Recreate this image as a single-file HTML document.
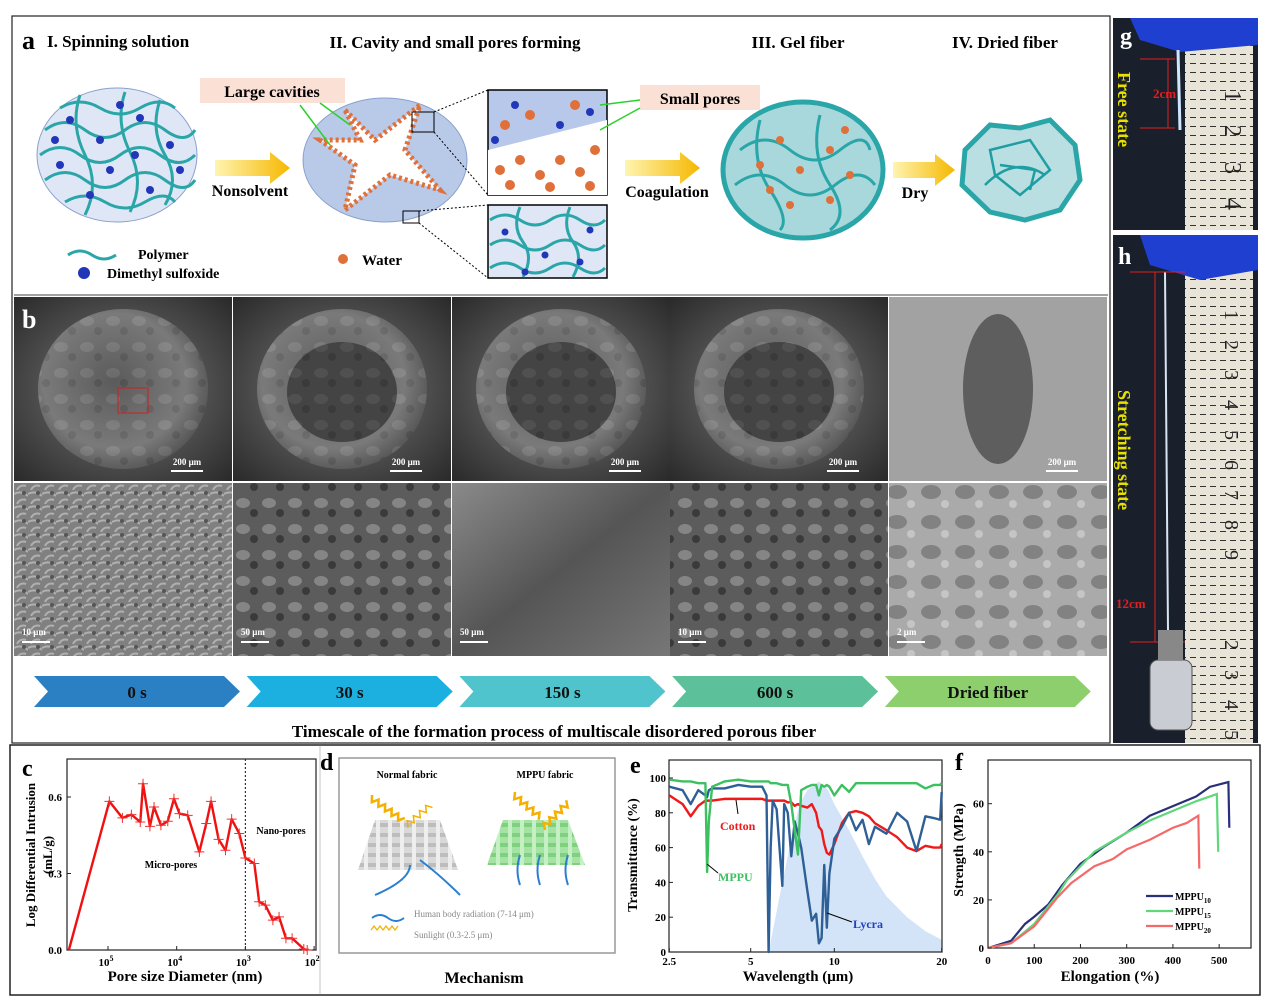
<!DOCTYPE html>
<html><head><meta charset="utf-8">
<style>
html,body{margin:0;padding:0;background:#fff;}
svg{display:block;font-family:"Liberation Serif",serif;}
.b{font-weight:bold;}
</style></head>
<body>
<svg id="fig" width="1261" height="998" viewBox="0 0 1261 998" xmlns="http://www.w3.org/2000/svg">
<defs>
<linearGradient id="yarrow" x1="0" x2="1"><stop offset="0" stop-color="#fff4b0"/><stop offset="1" stop-color="#f6b800"/></linearGradient>
<radialGradient id="semDark" cx="0.5" cy="0.5" r="0.7"><stop offset="0" stop-color="#7a7a7a"/><stop offset="1" stop-color="#2a2a2a"/></radialGradient>
<radialGradient id="fiber" cx="0.45" cy="0.45" r="0.6"><stop offset="0" stop-color="#5a5a5a"/><stop offset="0.7" stop-color="#8a8a8a"/><stop offset="1" stop-color="#4a4a4a"/></radialGradient>
<linearGradient id="g150" x1="0" y1="0" x2="1" y2="1"><stop offset="0" stop-color="#8a8a8a"/><stop offset="0.5" stop-color="#555"/><stop offset="1" stop-color="#777"/></linearGradient>
<pattern id="tex" width="14" height="14" patternUnits="userSpaceOnUse"><rect width="14" height="14" fill="#808080"/><path d="M0 4 Q7 0 14 6 M3 14 Q6 8 12 10" stroke="#b0b0b0" stroke-width="2" fill="none"/><circle cx="10" cy="3" r="2" fill="#555"/></pattern>
<pattern id="tex2" width="26" height="26" patternUnits="userSpaceOnUse"><rect width="26" height="26" fill="#5c5c5c"/><ellipse cx="9" cy="9" rx="7" ry="5" fill="#858585"/><circle cx="20" cy="19" r="4" fill="#3a3a3a"/></pattern>
<pattern id="tex3" width="34" height="30" patternUnits="userSpaceOnUse"><rect width="34" height="30" fill="#aaa"/><ellipse cx="13" cy="12" rx="10" ry="7" fill="#828282"/><circle cx="27" cy="24" r="4" fill="#c5c5c5"/></pattern>
<pattern id="weave" width="12" height="10" patternUnits="userSpaceOnUse"><rect width="12" height="10" fill="#d9d9d9"/><rect x="0" y="3" width="12" height="4" fill="#bdbdbd"/><rect x="4" y="0" width="4" height="10" fill="#eeeeee"/></pattern>
<pattern id="weaveG" width="12" height="10" patternUnits="userSpaceOnUse"><rect width="12" height="10" fill="#a5e3a5"/><rect x="0" y="3" width="12" height="4" fill="#7fd07f"/><rect x="4" y="0" width="4" height="10" fill="#c4f0c4"/></pattern>
<pattern id="ruler" width="10" height="9" patternUnits="userSpaceOnUse"><rect width="10" height="9" fill="#e8e4d8"/><line x1="0" y1="0.5" x2="6" y2="0.5" stroke="#333" stroke-width="1"/></pattern>
</defs>

<rect x="12" y="16" width="1098" height="727" fill="none" stroke="#222" stroke-width="1.2"/>
<rect x="10" y="745" width="1250" height="250" fill="none" stroke="#222" stroke-width="1.5"/>
<line x1="14" y1="295" x2="1108" y2="295" stroke="#444"/>

<g>
<text x="22" y="49" class="b" font-size="26">a</text>
<text x="47" y="47" class="b" font-size="17">I. Spinning solution</text>
<text x="455" y="48" class="b" font-size="17" text-anchor="middle">II. Cavity and small pores forming</text>
<text x="798" y="48" class="b" font-size="17" text-anchor="middle">III. Gel fiber</text>
<text x="1005" y="48" class="b" font-size="17" text-anchor="middle">IV. Dried fiber</text>

<g>
<ellipse cx="117" cy="155" rx="80" ry="67" fill="#dfe7f6" stroke="#8aa0cc"/>
<g stroke="#2aa6a8" stroke-width="3" fill="none">
<path d="M45 130 q20 -15 40 0 t40 0 t40 0 t30 0"/><path d="M40 155 q20 -15 40 0 t40 0 t40 0 t35 0"/><path d="M45 180 q20 -15 40 0 t40 0 t40 0 t30 0"/><path d="M60 108 q20 -12 40 0 t40 0 t35 0"/><path d="M65 202 q20 -12 40 0 t40 0 t30 0"/>
<path d="M80 95 q-10 30 5 60 t0 60"/><path d="M125 92 q-10 30 5 60 t0 60"/><path d="M160 100 q-10 30 5 55 t0 50"/>
</g>
<g fill="#2236b8"><circle cx="70" cy="120" r="4"/><circle cx="100" cy="140" r="4"/><circle cx="140" cy="118" r="4"/><circle cx="170" cy="145" r="4"/><circle cx="60" cy="165" r="4"/><circle cx="110" cy="170" r="4"/><circle cx="150" cy="190" r="4"/><circle cx="90" cy="195" r="4"/><circle cx="180" cy="170" r="4"/><circle cx="120" cy="105" r="4"/><circle cx="55" cy="140" r="4"/><circle cx="135" cy="155" r="4"/></g>
</g>
<polygon points="215,160 270,160 270,152 290,168 270,184 270,176 215,176" fill="url(#yarrow)"/>
<text x="250" y="196" class="b" font-size="16" text-anchor="middle">Nonsolvent</text>

<rect x="200" y="78" width="145" height="25" fill="#fbe0d6"/>
<text x="272" y="97" class="b" font-size="16" text-anchor="middle">Large cavities</text>
<g>
<ellipse cx="385" cy="160" rx="82" ry="62" fill="#b9c9e8" stroke="#8aa0cc"/>
<path d="M345 110 L375 140 L420 105 L405 150 L440 190 L390 175 L345 210 L355 165 L320 140 L360 140 Z" fill="#fff" stroke="#e0703a" stroke-width="5" stroke-dasharray="3 3"/>
<rect x="412" y="112" width="22" height="20" fill="none" stroke="#000"/><rect x="403" y="211" width="16" height="12" fill="none" stroke="#000"/>
<line x1="434" y1="112" x2="488" y2="90" stroke="#000" stroke-dasharray="2 2"/><line x1="434" y1="132" x2="488" y2="195" stroke="#000" stroke-dasharray="2 2"/>
<line x1="419" y1="211" x2="488" y2="205" stroke="#000" stroke-dasharray="2 2"/><line x1="419" y1="223" x2="488" y2="278" stroke="#000" stroke-dasharray="2 2"/>
<line x1="300" y1="105" x2="330" y2="145" stroke="#2bd12b" stroke-width="1.5"/><line x1="320" y1="103" x2="350" y2="125" stroke="#2bd12b" stroke-width="1.5"/>
</g>
<g>
<rect x="488" y="90" width="119" height="105" fill="#b8c8ea" stroke="#000" stroke-width="1.5"/>
<path d="M488 150 L607 120 L607 195 L488 195 Z" fill="#fff"/>
<g fill="#e0703a"><circle cx="500" cy="170" r="5"/><circle cx="520" cy="160" r="5"/><circle cx="540" cy="175" r="5"/><circle cx="560" cy="160" r="5"/><circle cx="580" cy="172" r="5"/><circle cx="595" cy="150" r="5"/><circle cx="510" cy="185" r="5"/><circle cx="550" cy="187" r="5"/><circle cx="590" cy="186" r="5"/><circle cx="530" cy="115" r="5"/><circle cx="575" cy="105" r="5"/><circle cx="505" cy="125" r="5"/></g>
<g fill="#2236b8"><circle cx="515" cy="105" r="4"/><circle cx="560" cy="125" r="4"/><circle cx="590" cy="112" r="4"/><circle cx="495" cy="140" r="4"/></g>
<rect x="488" y="205" width="119" height="73" fill="#dfe7f6" stroke="#000" stroke-width="1.5"/>
<g stroke="#2aa6a8" stroke-width="3" fill="none"><path d="M490 220 q15 -10 30 0 t30 0 t30 0 t25 0"/><path d="M490 245 q15 -10 30 0 t30 0 t30 0 t25 0"/><path d="M490 268 q15 -10 30 0 t30 0 t30 0 t25 0"/><path d="M520 207 q-8 20 3 35 t0 35"/><path d="M570 207 q-8 20 3 35 t0 35"/></g>
<g fill="#2236b8"><circle cx="505" cy="232" r="3.5"/><circle cx="545" cy="255" r="3.5"/><circle cx="590" cy="230" r="3.5"/><circle cx="525" cy="272" r="3.5"/><circle cx="580" cy="262" r="3.5"/></g>
</g>
<rect x="640" y="85" width="120" height="25" fill="#fbe0d6"/>
<text x="700" y="104" class="b" font-size="16" text-anchor="middle">Small pores</text>
<line x1="640" y1="100" x2="600" y2="105" stroke="#2bd12b" stroke-width="1.5"/><line x1="640" y1="108" x2="600" y2="130" stroke="#2bd12b" stroke-width="1.5"/>
<polygon points="625,160 680,160 680,152 700,168 680,184 680,176 625,176" fill="url(#yarrow)"/>
<text x="667" y="197" class="b" font-size="16" text-anchor="middle">Coagulation</text>
<g>
<ellipse cx="803" cy="170" rx="80" ry="68" fill="#a8d8dc" stroke="#2aa6a8" stroke-width="5"/>
<g stroke="#2aa6a8" stroke-width="3" fill="none"><path d="M740 150 q25 -20 50 0 t50 0 t30 0"/><path d="M735 185 q25 -20 50 0 t50 0 t40 0"/><path d="M760 120 q-10 40 10 70 t10 40"/><path d="M820 115 q-10 40 10 70 t0 45"/></g>
<g fill="#e0703a"><circle cx="760" cy="165" r="4"/><circle cx="780" cy="140" r="4"/><circle cx="800" cy="170" r="4"/><circle cx="830" cy="150" r="4"/><circle cx="850" cy="175" r="4"/><circle cx="790" cy="205" r="4"/><circle cx="830" cy="200" r="4"/><circle cx="770" cy="190" r="4"/><circle cx="845" cy="130" r="4"/></g>
</g>
<polygon points="893,162 935,162 935,154 955,170 935,186 935,178 893,178" fill="url(#yarrow)"/>
<text x="915" y="198" class="b" font-size="16" text-anchor="middle">Dry</text>
<g>
<path d="M965 150 L990 125 L1020 128 L1050 120 L1075 145 L1080 180 L1060 210 L1025 220 L990 212 L962 185 Z" fill="#b9dfe3" stroke="#2aa6a8" stroke-width="5"/>
<g stroke="#1f9ea2" stroke-width="2.5" fill="none"><path d="M990 150 l40 -10 l20 30 l-30 25 l-25 -20 z"/><path d="M1000 165 l35 5 l-5 20"/><path d="M985 185 q30 -30 60 -10"/></g>
</g>
<g>
<path d="M68 255 q12 -8 24 0 t24 0" stroke="#2aa6a8" stroke-width="3" fill="none"/>
<text x="138" y="259" class="b" font-size="14">Polymer</text>
<circle cx="84" cy="273" r="6" fill="#2236b8"/>
<text x="107" y="278" class="b" font-size="14">Dimethyl sulfoxide</text>
<circle cx="343" cy="259" r="5" fill="#e0703a"/>
<text x="362" y="265" class="b" font-size="15">Water</text>
</g>
</g>

<g id="panelB"></g>
<g id="timeline"></g>
<text x="554" y="737" class="b" font-size="17" text-anchor="middle">Timescale of the formation process of multiscale disordered porous fiber</text>

<g>
<rect x="1113" y="18" width="145" height="212" fill="#1a1f2c"/>
<rect x="1185" y="45" width="68" height="185" fill="url(#ruler)"/>
<path d="M1130 18 L1258 18 L1258 45 L1180 52 L1140 40 Z" fill="#1e3fd0"/>
<line x1="1178" y1="50" x2="1180" y2="130" stroke="#cfe6ff" stroke-width="3"/>
<line x1="1140" y1="59" x2="1175" y2="59" stroke="#e02020"/><line x1="1140" y1="128" x2="1175" y2="128" stroke="#e02020"/><line x1="1168" y1="59" x2="1168" y2="128" stroke="#e02020"/>
<text x="1153" y="98" fill="#e02020" class="b" font-size="13">2cm</text>
<text transform="translate(1118,72) rotate(90)" fill="#e8e000" class="b" font-size="18">Free  state</text>
<text x="1120" y="44" fill="#fff" class="b" font-size="24">g</text>
<g font-size="24" fill="#222"><text transform="translate(1225,90) rotate(90)">1</text><text transform="translate(1225,125) rotate(90)">2</text><text transform="translate(1225,162) rotate(90)">3</text><text transform="translate(1225,198) rotate(90)">4</text></g>
</g>
<g>
<rect x="1113" y="235" width="145" height="508" fill="#1a1f2c"/>
<rect x="1185" y="265" width="68" height="478" fill="url(#ruler)"/>
<path d="M1140 235 L1258 235 L1258 270 L1200 280 L1150 265 Z" fill="#1e3fd0"/>
<line x1="1165" y1="272" x2="1168" y2="630" stroke="#d8e4f0" stroke-width="2"/>
<line x1="1130" y1="272" x2="1185" y2="272" stroke="#e02020"/><line x1="1130" y1="642" x2="1185" y2="642" stroke="#e02020"/><line x1="1155" y1="272" x2="1155" y2="642" stroke="#e02020"/>
<text x="1116" y="608" fill="#e02020" class="b" font-size="13">12cm</text>
<text transform="translate(1118,390) rotate(90)" fill="#e8e000" class="b" font-size="18">Stretching state</text>
<text x="1118" y="264" fill="#fff" class="b" font-size="24">h</text>
<rect x="1150" y="660" width="42" height="70" rx="8" fill="#c9ccd2" stroke="#555"/>
<rect x="1158" y="630" width="25" height="30" fill="#888"/>
<g font-size="20" fill="#222"><text transform="translate(1225,310) rotate(90)">1</text><text transform="translate(1225,340) rotate(90)">2</text><text transform="translate(1225,370) rotate(90)">3</text><text transform="translate(1225,400) rotate(90)">4</text><text transform="translate(1225,430) rotate(90)">5</text><text transform="translate(1225,460) rotate(90)">6</text><text transform="translate(1225,490) rotate(90)">7</text><text transform="translate(1225,520) rotate(90)">8</text><text transform="translate(1225,550) rotate(90)">9</text><text transform="translate(1225,640) rotate(90)">2</text><text transform="translate(1225,670) rotate(90)">3</text><text transform="translate(1225,700) rotate(90)">4</text><text transform="translate(1225,730) rotate(90)">5</text></g>
</g>

<line x1="320" y1="745" x2="320" y2="995" stroke="#888" stroke-width="0.5"/>

<g id="panelC"></g>
<g>
<text x="320" y="770" class="b" font-size="24">d</text>
<rect x="339" y="758" width="276" height="195" fill="#fff" stroke="#999" stroke-width="1.5"/>
<text x="407" y="778" class="b" font-size="10" text-anchor="middle">Normal fabric</text>
<text x="545" y="778" class="b" font-size="10" text-anchor="middle">MPPU fabric</text>
<path d="M375 820 L440 820 L458 870 L358 870 Z" fill="url(#weave)"/>
<path d="M503 820 L568 820 L585 865 L487 865 Z" fill="url(#weaveG)"/>
<g fill="none" stroke="#f5b000" stroke-width="2.5">
<path d="M372 795 l4 6 l4 -6 l4 6 l4 -6 l4 6 l4 -6 l4 6 l4 -6 l4 6 l4 -6" transform="rotate(35 372 795)"/>
<path d="M408 828 l4 -6 l4 6 l4 -6 l4 6 l4 -6 l4 6 l4 -6 l4 6" transform="rotate(-40 408 828)" stroke-width="1.5"/>
<path d="M515 792 l4 6 l4 -6 l4 6 l4 -6 l4 6 l4 -6 l4 6 l4 -6 l4 6" transform="rotate(40 515 792)"/>
<path d="M545 830 l4 -6 l4 6 l4 -6 l4 6 l4 -6 l4 6 l4 -6 l4 6 l4 -6" transform="rotate(-45 545 830)"/>
</g>
<g fill="none" stroke="#2a7fd0" stroke-width="2"><path d="M410 865 q0 15 -35 30"/><path d="M460 895 q-20 -20 -40 -35"/><path d="M520 885 q-5 -15 0 -30"/><path d="M540 885 q-5 -15 0 -30"/><path d="M568 885 q-5 -15 0 -30"/>
<path d="M372 918 q8 -6 16 0 t16 0"/></g>
<path d="M371 930 l3 -4 l3 4 l3 -4 l3 4 l3 -4 l3 4 l3 -4 l3 4 l3 -4" stroke="#f5b000" stroke-width="1.2" fill="none"/>
<text x="414" y="917" font-size="9" fill="#888">Human body radiation (7-14 μm)</text>
<text x="414" y="938" font-size="9" fill="#888">Sunlight (0.3-2.5 μm)</text>
<text x="484" y="983" class="b" font-size="16" text-anchor="middle">Mechanism</text>
</g>
<g id="panelE"></g>
<g id="panelF"></g>
</svg>

<script>
const cLogD = [5.57,4.98,4.79,4.66,4.53,4.49,4.39,4.33,4.23,4.13,4.04,3.96,3.84,3.67,3.57,3.50,3.39,3.29,3.20,3.09,3.00,2.87,2.80,2.71,2.60,2.51,2.41,2.32,2.15,2.10];
const cVal  = [0,0.583,0.518,0.531,0.502,0.652,0.485,0.561,0.489,0.505,0.593,0.535,0.528,0.385,0.496,0.583,0.434,0.391,0.513,0.457,0.361,0.339,0.189,0.176,0.117,0.130,0.046,0.046,0.004,0];
const cYTicks = [0,0.3,0.6];
const cYTickLabels = ["0.0","0.3","0.6"];
const cXTicks = [5,4,3,2];
const cXTickLabels = ["5","4","3","2"];

const eWl = [2.5,2.8,3.0,3.2,3.4,3.45,3.5,3.6,4,4.5,5,5.5,5.7,5.8,5.9,6,6.2,6.5,6.6,6.8,7,7.2,7.4,7.6,8,8.3,8.6,8.8,9,9.2,9.4,9.6,10,10.5,11,11.5,12,12.5,13,14,15,16,17,18,19,19.8,20];
const eLycra = [95,93,85,93,90,89,93,94,94,96,95,95,90,0,60,87,82,38,85,80,55,75,68,60,35,18,22,5,8,50,14,45,65,72,80,70,76,62,72,68,80,75,58,78,77,76,92];
const eCotton = [90,85,78,84,87,87,87,87,88,88,88,88,87,87,87,87,87,87,87,86,86,84,85,84,83,85,80,72,70,62,57,56,62,74,80,81,80,78,74,70,66,60,58,61,60,60,62];
const eMppu = [99,98,98,97,97,46,75,95,98,99,98,98,98,98,97,97,97,96,96,96,85,70,56,93,95,96,96,90,96,95,96,95,90,96,92,97,97,97,97,97,97,97,97,94,96,96,97];
const eBbWl = [5.8,6.5,7,7.5,8,8.8,9.5,10,11,12,13,14,16,18,20];
const eBbVal = [0,40,65,85,93,98,93,85,70,55,42,32,20,12,7];
const eXTicks = [2.5,5,10,20];
const eXTickLabels = ["2.5","5","10","20"];
const eYTicks = [0,20,40,60,80,100];

const fX10 = [0,50,80,100,130,160,200,250,300,350,400,450,480,520,522];
const fY10 = [0,3,10,13,18,26,35,42,48,55,59,63,67,69,50];
const fX15 = [0,50,100,150,170,200,230,300,350,400,450,495,498];
const fY15 = [0,2,10,22,28,34,40,48,53,57,61,64,40];
const fX20 = [0,50,100,150,180,230,270,300,350,400,430,455,457];
const fY20 = [0,2,9,21,27,34,37,41,45,50,52,55,33];
const fXTicks = [0,100,200,300,400,500];
const fYTicks = [0,20,40,60];

const NS = "http://www.w3.org/2000/svg";
function mk(tag, attrs, parent, text){
  const e = document.createElementNS(NS, tag);
  for (const k in attrs) e.setAttribute(k, attrs[k]);
  if (text !== undefined) e.textContent = text;
  parent.appendChild(e);
  return e;
}

(function(){
  const g = document.getElementById('panelB');
  const cols = [14,233,452,670,889];
  const row1Fill = ['url(#semDark)','url(#semDark)','url(#semDark)','url(#semDark)','#a2a2a2'];
  const row2Fill = ['url(#tex)','url(#tex2)','url(#g150)','url(#tex2)','url(#tex3)'];
  const scales1 = ['200 μm','200 μm','200 μm','200 μm','200 μm'];
  const scales2 = ['10 μm','50 μm','50 μm','10 μm','2 μm'];
  cols.forEach((x,i)=>{
    const r1 = mk('rect',{x:x,y:297,width:218,height:184,fill:row1Fill[i]},g);
    
    
    const f = mk('ellipse',{cx:x+109,cy:389,rx:i==4?35:85,ry:i==4?75:80,fill:i==4?'#5e5e5e':'url(#fiber)'},g);
    
    
    if(i<4){ mk('ellipse',{cx:x+109,cy:389,rx:85,ry:80,fill:'url(#tex2)',opacity:0.35},g); }
    if(i>0 && i<4){ mk('ellipse',{cx:x+109,cy:392,rx:55,ry:50,fill:'#3a3a3a'},g); mk('ellipse',{cx:x+109,cy:392,rx:55,ry:50,fill:'url(#tex2)',opacity:0.3},g); }
    const s1 = mk('text',{x:x+173,y:465,fill:'#fff','font-size':9,'font-weight':'bold','text-anchor':'middle'},g,scales1[i]);
    
    
    mk('line',{x1:x+157,y1:471,x2:x+189,y2:471,stroke:'#fff','stroke-width':2},g);
    const r2 = mk('rect',{x:x,y:483,width:218,height:173,fill:row2Fill[i]},g);
    
    
    const s2 = mk('text',{x:x+8,y:635,fill:'#fff','font-size':9,'font-weight':'bold'},g,scales2[i]);
    
    
    mk('line',{x1:x+8,y1:642,x2:x+36,y2:642,stroke:'#fff','stroke-width':2},g);
  });
  mk('rect',{x:118,y:388,width:30,height:25,fill:'none',stroke:'#d02020'},g);
  const lb = mk('text',{x:22,y:328,fill:'#fff','font-size':26,'font-weight':'bold'},g,'b');
  
  
})();

(function(){
  const g = document.getElementById('timeline');
  const labels = ['0 s','30 s','150 s','600 s','Dried fiber'];
  const colors = ['#2b7fc3','#1cb0e0','#4fc4cc','#5cc09a','#8ccf6c'];
  labels.forEach((t,i)=>{
    const x = 34 + i*212.7;
    const p = mk('polygon',{points:`${x},676 ${x+190},676 ${x+206},691.5 ${x+190},707 ${x},707 ${x+14},691.5`,fill:colors[i]},g);
    
    
    const tx = mk('text',{x:x+103,y:698,'font-size':17,'font-weight':'bold','text-anchor':'middle',fill:'#111'},g,t);
    
    
  });
})();

(function(){
  const g = document.getElementById('panelC');
  const L=67,R=316,T=759,B=950;
  const xs = v => 108 + (5 - v)*68.7;
  const ys = v => B - v/0.3*76.5;
  mk('rect',{x:L,y:T,width:R-L,height:B-T,fill:'none',stroke:'#222','stroke-width':1.2},g);
  cYTicks.forEach((v,i)=>{
    mk('line',{x1:L,y1:ys(v),x2:L+4,y2:ys(v),stroke:'#222'},g);
    const t = mk('text',{x:L-5,y:ys(v)+4,'font-size':11,'font-weight':'bold','text-anchor':'end'},g,cYTickLabels[i]);
    
    
  });
  cXTicks.forEach((v,i)=>{
    mk('line',{x1:xs(v),y1:B,x2:xs(v),y2:B-4,stroke:'#222'},g);
    const t = mk('text',{x:xs(v)-2,y:B+16,'font-size':11,'font-weight':'bold','text-anchor':'middle'},g,'10');
    mk('tspan',{dy:-5,'font-size':8},t,cXTickLabels[i]);
    
    
  });
  const dl = mk('line',{x1:xs(3),y1:T,x2:xs(3),y2:B,stroke:'#333','stroke-dasharray':'2 2','stroke-width':1.2},g);
  
  
  const pts = cLogD.map((d,i)=>xs(d)+','+ys(cVal[i])).join(' ');
  const ln = mk('polyline',{points:pts,fill:'none',stroke:'#f01010','stroke-width':2.4,'stroke-linejoin':'round'},g);
  
  
  cLogD.forEach((d,i)=>{
    if(i===0) return;
    const x=xs(d), y=ys(cVal[i]);
    const m = mk('path',{d:`M${x-5} ${y}H${x+5}M${x} ${y-5}V${y+5}`,stroke:'#f03030','stroke-width':1},g);
    
    
  });
  const lab=[['c',22,776,24,'panel-c-label'],['Micro-pores',171,868,10,'micro-pores-label'],['Nano-pores',281,834,10,'nano-pores-label']];
  lab.forEach(a=>{const t=mk('text',{x:a[1],y:a[2],'font-size':a[3],'font-weight':'bold','text-anchor':a[0]==='c'?'start':'middle'},g,a[0]);});
  const xt = mk('text',{x:185,y:981,'font-size':15,'font-weight':'bold','text-anchor':'middle'},g,'Pore size Diameter (nm)');
  
  
  const yt = mk('text',{transform:'translate(35,855) rotate(-90)','font-size':13,'font-weight':'bold','text-anchor':'middle'},g,'Log Differential Intrusion');
  
  
  const yt2 = mk('text',{transform:'translate(52,855) rotate(-90)','font-size':13,'font-weight':'bold','text-anchor':'middle'},g,'(mL/g)');
  
  
})();

(function(){
  const g = document.getElementById('panelE');
  const L=669,R=942,T=760,B=952;
  const tickPx=[669.3,750.7,834.3,941.7];
  const xs = v => {
    for(let i=0;i<eXTicks.length-1;i++){
      if(v<=eXTicks[i+1]||i===eXTicks.length-2){
        const f=Math.log(v/eXTicks[i])/Math.log(eXTicks[i+1]/eXTicks[i]);
        return tickPx[i]+f*(tickPx[i+1]-tickPx[i]);
      }
    }
  };
  const ys = v => B - v*1.74;
  const bb = eBbWl.map((w,i)=>xs(w)+','+ys(eBbVal[i]));
  const area = mk('polygon',{points:bb.join(' ')+' '+xs(20)+','+B+' '+xs(5.8)+','+B,fill:'#d3e4f8'},g);
  
  
  mk('rect',{x:L,y:T,width:R-L,height:B-T,fill:'none',stroke:'#222','stroke-width':1.2},g);
  const series=[[eCotton,'#f01818','cotton-line'],[eLycra,'#2e5f96','lycra-line'],[eMppu,'#3cc060','mppu-line']];
  series.forEach(s=>{
    const p = mk('polyline',{points:eWl.map((w,i)=>xs(w)+','+ys(s[0][i])).join(' '),fill:'none',stroke:s[1],'stroke-width':2.4,'stroke-linejoin':'round'},g);
    
    
  });
  eYTicks.forEach(v=>{
    mk('line',{x1:L,y1:ys(v),x2:L+4,y2:ys(v),stroke:'#222'},g);
    const t = mk('text',{x:L-3,y:ys(v)+4,'font-size':11,'font-weight':'bold','text-anchor':'end'},g,String(v));
    
    
  });
  eXTicks.forEach((v,i)=>{
    mk('line',{x1:xs(v),y1:B,x2:xs(v),y2:B-4,stroke:'#222'},g);
    const t = mk('text',{x:xs(v),y:B+13,'font-size':11,'font-weight':'bold','text-anchor':'middle'},g,eXTickLabels[i]);
    
    
  });
  const labs=[['e',630,773,24,'#000','panel-e-label'],['Cotton',720,830,12,'#f01818','cotton-label'],['MPPU',718,881,12,'#3cc060','mppu-label'],['Lycra',853,928,12,'#2040c0','lycra-label']];
  labs.forEach(a=>{const t=mk('text',{x:a[1],y:a[2],'font-size':a[3],'font-weight':'bold',fill:a[4]},g,a[0]);});
  mk('line',{x1:736,y1:800,x2:738,y2:814,stroke:'#000'},g);
  mk('line',{x1:707,y1:864,x2:718,y2:873,stroke:'#000'},g);
  mk('line',{x1:827,y1:913,x2:852,y2:922,stroke:'#000'},g);
  const xt = mk('text',{x:798,y:981,'font-size':15,'font-weight':'bold','text-anchor':'middle'},g,'Wavelength (μm)');
  
  
  const yt = mk('text',{transform:'translate(637,855) rotate(-90)','font-size':14,'font-weight':'bold','text-anchor':'middle'},g,'Transmittance (%)');
  
  
})();

(function(){
  const g = document.getElementById('panelF');
  const L=988,R=1251,T=760,B=948;
  const xs = v => L + v*0.4623;
  const ys = v => B - v*2.405;
  mk('rect',{x:L,y:T,width:R-L,height:B-T,fill:'none',stroke:'#222','stroke-width':1.2},g);
  const series=[[fX10,fY10,'#2a2f7a','mppu10-line'],[fX15,fY15,'#5fd87a','mppu15-line'],[fX20,fY20,'#f46a6a','mppu20-line']];
  series.forEach(s=>{
    const p = mk('polyline',{points:s[0].map((x,i)=>xs(x)+','+ys(s[1][i])).join(' '),fill:'none',stroke:s[2],'stroke-width':2.2},g);
    
    
  });
  fYTicks.forEach(v=>{
    mk('line',{x1:L,y1:ys(v),x2:L+4,y2:ys(v),stroke:'#222'},g);
    const t = mk('text',{x:L-4,y:ys(v)+4,'font-size':11,'font-weight':'bold','text-anchor':'end'},g,String(v));
    
    
  });
  fXTicks.forEach(v=>{
    mk('line',{x1:xs(v),y1:B,x2:xs(v),y2:B-4,stroke:'#222'},g);
    const t = mk('text',{x:xs(v),y:B+16,'font-size':11,'font-weight':'bold','text-anchor':'middle'},g,String(v));
    
    
  });
  const leg=[['10','#2a2f7a',900],['15','#5fd87a',915],['20','#f46a6a',930]];
  leg.forEach(a=>{
    const l = mk('line',{x1:1146,y1:a[2]-4,x2:1173,y2:a[2]-4,stroke:a[1],'stroke-width':2.2},g);
    
    
    const t = mk('text',{x:1175,y:a[2],'font-size':10,'font-weight':'bold'},g,'MPPU');
    mk('tspan',{dy:3,'font-size':7},t,a[0]);
    
    
  });
  const lb = mk('text',{x:955,y:770,'font-size':24,'font-weight':'bold'},g,'f');
  
  
  const xt = mk('text',{x:1110,y:981,'font-size':15,'font-weight':'bold','text-anchor':'middle'},g,'Elongation (%)');
  
  
  const yt = mk('text',{transform:'translate(963,850) rotate(-90)','font-size':14,'font-weight':'bold','text-anchor':'middle'},g,'Strength (MPa)');
  
  
})();
</script>
</body></html>
